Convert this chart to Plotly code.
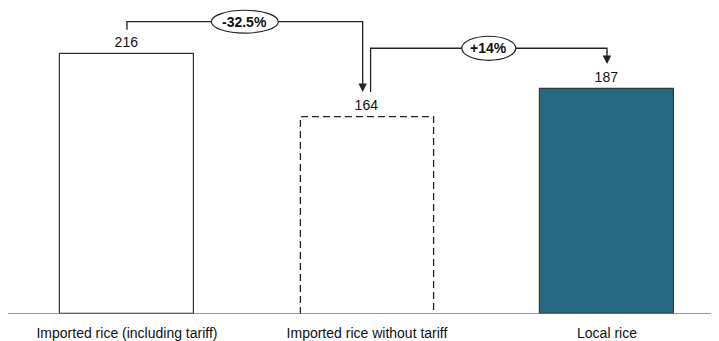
import plotly.graph_objects as go

categories = ["Imported rice (including tariff)", "Imported rice without tariff", "Local rice"]
values = [216, 164, 187]
value_labels = ["216", "164", "187"]
change_labels = ["-32.5%", "+14%"]

FONT = "Liberation Sans, Arial"
BW = 0.555
fig = go.Figure()

x = [0, 1, 2]
fig.add_trace(go.Bar(
    x=x, y=values, width=BW,
    marker=dict(color=["white", "white", "#246883"],
                line=dict(color=["#333333", "rgba(0,0,0,0)", "#3a3a3a"], width=1.2)),
    text=value_labels, textposition="outside", cliponaxis=False,
    textfont=dict(family=FONT, size=14, color="#111111"),
    hoverinfo="skip",
))

# dashed outline for the middle bar
fig.add_trace(go.Scatter(
    x=[1 - BW / 2, 1 - BW / 2, 1 + BW / 2, 1 + BW / 2],
    y=[0, values[1], values[1], 0],
    mode="lines", line=dict(color="#222222", width=1.3, dash="7px,4px"),
    hoverinfo="skip",
))

line_style = dict(color="#222222", width=1.3)

# connector 1: bar 0 -> bar 1
h1 = values[0] + 26.8
x1_end = 0.982
fig.add_trace(go.Scatter(
    x=[0, 0, x1_end, x1_end], y=[values[0] + 20, h1, h1, values[1] + 30],
    mode="lines", line=line_style, hoverinfo="skip"))
fig.add_annotation(x=x1_end, y=values[1] + 20.4, ax=x1_end, ay=values[1] + 32,
                   xref="x", yref="y", axref="x", ayref="y", text="", showarrow=True,
                   arrowhead=2, arrowsize=1.3, arrowwidth=1.3, arrowcolor="#222222")

# connector 2: bar 1 -> bar 2
h2 = values[2] + 33.7
x2_start = 1.015
fig.add_trace(go.Scatter(
    x=[x2_start, x2_start, 2, 2], y=[values[1] + 20.4, h2, h2, values[2] + 30],
    mode="lines", line=line_style, hoverinfo="skip"))
fig.add_annotation(x=2, y=values[2] + 20.6, ax=2, ay=values[2] + 32,
                   xref="x", yref="y", axref="x", ayref="y", text="", showarrow=True,
                   arrowhead=2, arrowsize=1.3, arrowwidth=1.3, arrowcolor="#222222")

# ellipses with change labels
ells = [((0 + x1_end) / 2, h1, 0.279, 9.5), ((x2_start + 2) / 2, h2, 0.225, 10.0)]
for (cx, cy, w, hh), lab in zip(ells, change_labels):
    fig.add_shape(type="circle", xref="x", yref="y",
                  x0=cx - w / 2, x1=cx + w / 2, y0=cy - hh, y1=cy + hh,
                  line=dict(color="#222222", width=1.2), fillcolor="white", layer="above")
    fig.add_annotation(x=cx, y=cy, xref="x", yref="y", text="<b>" + lab + "</b>",
                       showarrow=False,
                       font=dict(family=FONT, size=14, color="#111111"))

fig.update_layout(
    width=711, height=333,
    margin=dict(l=0, r=0, t=0, b=27, autoexpand=False),
    plot_bgcolor="white", paper_bgcolor="white",
    showlegend=False, bargap=0,
    xaxis=dict(range=[-0.4958, 2.4667], tickvals=x, ticktext=categories,
               showgrid=False, zeroline=False, showline=False, ticks="",
               ticklabelstandoff=9, automargin=False,
               tickfont=dict(family=FONT, size=14, color="#111111")),
    yaxis=dict(range=[0, 254.15], visible=False, showgrid=False, zeroline=False),
)
fig.add_shape(type="line", xref="paper", yref="y", x0=0, x1=1, y0=0, y1=0,
              line=dict(color="#777777", width=1.5))

fig.write_html("out.html")
